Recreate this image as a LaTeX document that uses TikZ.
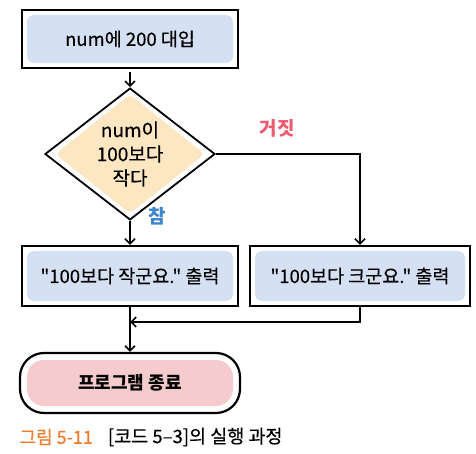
\documentclass[tikz,border=0pt]{standalone}
\usepackage{fontspec}
\setmainfont{Noto Sans CJK KR}
\newfontfamily\boxfont{Noto Sans CJK KR}[FakeBold=0.4, Ligatures=TeXOff]
\usepackage{tikz}
\usetikzlibrary{calc,positioning,shapes.geometric,arrows.meta}
\definecolor{boxblue}{HTML}{D6E0F3}
\definecolor{decfill}{HTML}{FDE6C2}
\definecolor{endpink}{HTML}{F6CBCE}
\definecolor{truecolor}{HTML}{3B86CF}
\definecolor{falsecolor}{HTML}{EC5B70}
\definecolor{capcolor}{HTML}{F07B2C}
\tikzstyle{procbox} = [
    draw=black,
    line width=2.4pt,
    rectangle,
    inner sep=0pt,
    minimum height=58pt,
    font=\boxfont\fontsize{18.5}{22}\selectfont,
    path picture={\fill[boxblue, rounded corners=7pt]
        ([shift={(5pt,5pt)}]path picture bounding box.south west) rectangle
        ([shift={(-5pt,-5pt)}]path picture bounding box.north east);}
    ]
\tikzstyle{decision} = [
    diamond,
    draw=black,
    line width=1.8pt,
    fill=white,
    minimum width=170pt,
    minimum height=108pt,
    inner sep=0pt,
    align=center,
    font=\boxfont\fontsize{19}{24}\selectfont,
    path picture={\fill[decfill, rounded corners=5pt]
        ($(path picture bounding box.west)+(10pt,0)$) --
        ($(path picture bounding box.north)+(0,-6pt)$) --
        ($(path picture bounding box.east)+(-10pt,0)$) --
        ($(path picture bounding box.south)+(0,6pt)$) -- cycle;}
    ]
\tikzstyle{endbox} = [
    draw=black,
    line width=2.2pt,
    rectangle,
    rounded corners=24pt,
    minimum width=220pt,
    minimum height=60pt,
    font=\bfseries\fontsize{18}{22}\selectfont,
    path picture={\fill[endpink, rounded corners=17pt]
        ([shift={(7pt,7pt)}]path picture bounding box.south west) rectangle
        ([shift={(-7pt,-7pt)}]path picture bounding box.north east);}
    ]
\tikzstyle{flow} = [
    line width=1.6pt,
    -{Straight Barb[length=5pt,width=10pt]}
    ]
\tikzstyle{branch} = [font=\bfseries\fontsize{19}{22}\selectfont]

\begin{document}
\begin{tikzpicture}[x=1pt,y=-1pt]
\useasboundingbox (0,0) rectangle (476,454);

\node[procbox, minimum width=216pt] (init) at (130,39) {num에 200 대입};
\node[decision] (test) at (130,154) {num이\\100보다\\작다};
\node[procbox, minimum width=216pt, minimum height=60pt] (small) at (130,276)
    {"100보다 작군요." 출력};
\node[procbox, minimum width=220pt, minimum height=60pt] (big) at (360,276)
    {"100보다 크군요." 출력};
\node[endbox] (stop) at (130,383) {프로그램 종료};
\coordinate (merge) at (130,322);

% labels of the branches
\node[branch, text=truecolor] (yes) at (157,216) {참};
\node[branch, text=falsecolor] (no) at (277,128) {거짓};

\draw[flow, shorten <=3pt] (init) -- (test);
\draw[flow] (test.south) -- (small.north);
\draw[flow] (test.east) -| (big.north);
\draw[flow] (small.south) -- (stop.north);
\draw[flow] (big.south) |- (merge);

% caption
\node[anchor=west, text=capcolor, font=\boxfont\fontsize{18}{22}\selectfont] (capnum)
    at (16,437) {그림 5-11};
\node[right=8pt of capnum, font=\boxfont\fontsize{18.5}{22}\selectfont] (captitle)
    {[코드 5–3]의 실행 과정};
\end{tikzpicture}
\end{document}
